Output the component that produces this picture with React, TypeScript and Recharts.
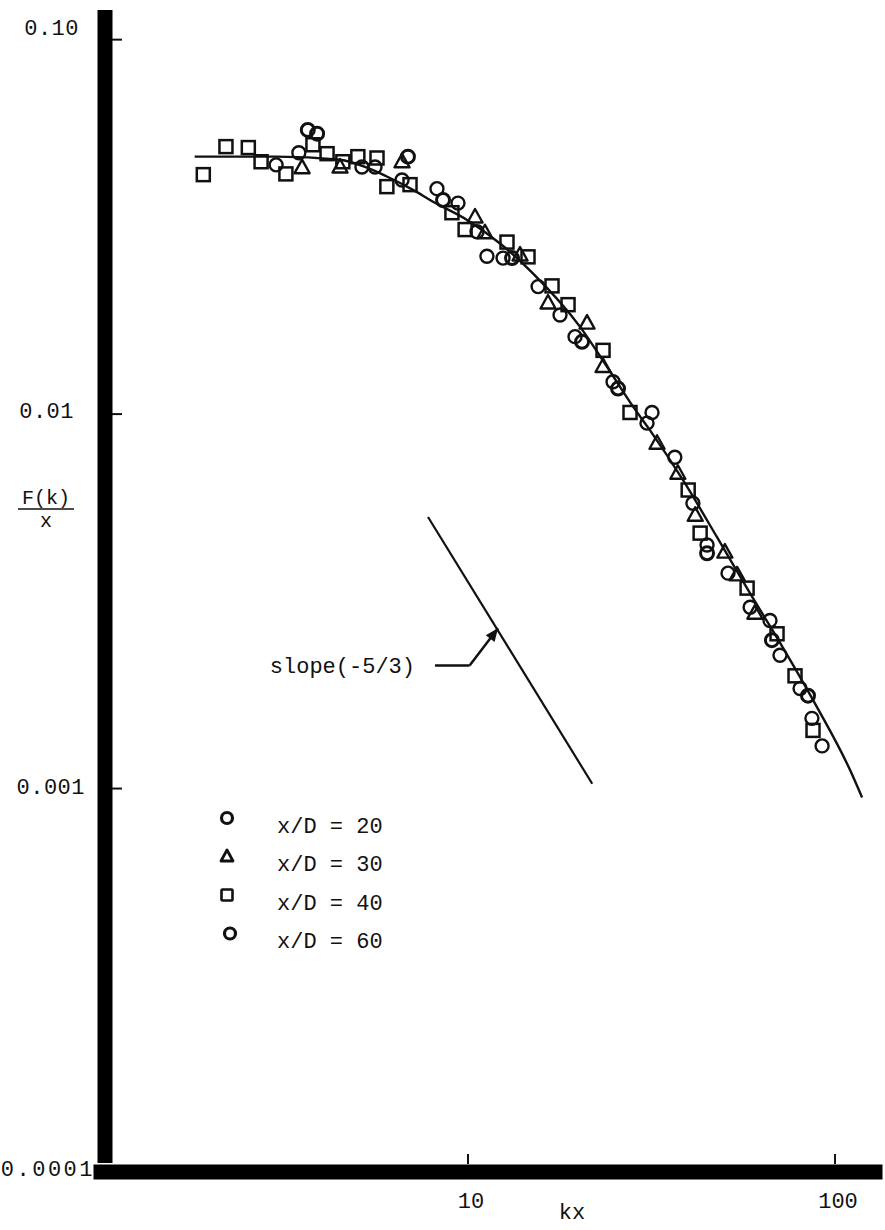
import React from 'react';
import { ComposedChart, XAxis, YAxis, Scatter, Line, ReferenceLine, Legend } from 'recharts';

// ---- axis ticks ----
const xTicks = [10, 100];
const xTickLabels = ['10', '100'];
const yTicks = [0.0001, 0.001, 0.01, 0.1];
const yTickLabels = ['0.0001', '0.001', '0.01', '0.10'];
const xLabel = 'kx';
const yLabelTop = 'F(k)';
const yLabelBottom = 'x';

// ---- data: x/D = 20 (circles) ----
const kx20 = [3.0, 3.46, 5.14, 5.58, 6.61, 8.23, 9.39, 10.58, 11.26, 12.46, 15.52, 17.81, 19.57, 24.84, 30.74, 31.72, 36.6, 41.0, 44.8, 51.1, 58.7, 66.5, 70.8, 80.3, 86.5, 92.2];
const f20 = [0.0463, 0.0499, 0.0457, 0.0457, 0.0422, 0.04, 0.0366, 0.0307, 0.0264, 0.0261, 0.0219, 0.0184, 0.0161, 0.0122, 0.00946, 0.0101, 0.00767, 0.00578, 0.00447, 0.00376, 0.00305, 0.00281, 0.00227, 0.00185, 0.00154, 0.0013];

// ---- data: x/D = 30 (triangles) ----
const kx30 = [3.53, 4.48, 6.61, 10.45, 11.12, 13.86, 16.52, 21.1, 23.33, 32.73, 37.3, 41.6, 50.1, 54.1, 60.5];
const f30 = [0.0455, 0.0457, 0.0472, 0.0336, 0.0305, 0.0266, 0.0198, 0.0175, 0.0134, 0.00836, 0.00695, 0.00537, 0.00428, 0.00372, 0.00294];

// ---- data: x/D = 40 (squares) ----
const kx40 = [1.9, 2.19, 2.52, 2.73, 3.19, 3.78, 4.13, 4.56, 5.01, 5.65, 6.01, 6.95, 9.04, 9.82, 12.77, 14.57, 16.94, 18.73, 23.33, 27.63, 39.8, 42.9, 57.6, 69.5, 77.8, 87.1];
const f40 = [0.0436, 0.0518, 0.0515, 0.0472, 0.0438, 0.0524, 0.0496, 0.0472, 0.0487, 0.0483, 0.0405, 0.041, 0.0345, 0.0311, 0.0288, 0.0263, 0.022, 0.0196, 0.0148, 0.0101, 0.00627, 0.00481, 0.00343, 0.00259, 0.002, 0.00143];

// ---- data: x/D = 60 (bold circles) ----
const kx60 = [3.66, 3.88, 6.86, 8.55, 13.18, 20.45, 25.63, 44.8, 67.3, 84.4];
const f60 = [0.0574, 0.0561, 0.0487, 0.0373, 0.0261, 0.0156, 0.0117, 0.00425, 0.00249, 0.00177];

// ---- fitted curve ----
const kxCurve = [1.8, 3.0, 4.48, 5.31, 6.01, 7.08, 8.03, 9.94, 12.2, 15.0, 20.2, 23.9, 28.2, 31.3, 38.5, 47.7, 58.7, 72.1, 89.3, 109.9, 118.5];
const fCurve = [0.0487, 0.0487, 0.0478, 0.0455, 0.0431, 0.0397, 0.0369, 0.033, 0.0286, 0.0238, 0.0171, 0.0134, 0.01045, 0.00906, 0.00667, 0.00469, 0.00332, 0.00238, 0.00165, 0.00112, 0.000946];

// ---- slope (-5/3) reference segment and arrow ----
const slopeKx = [7.78, 21.8];
const slopeF = [0.00531, 0.00103];
const arrowKx = [8.13, 10.1, 12.07];
const arrowF = [0.00213, 0.00213, 0.00268];
const slopeLabel = 'slope(-5/3)';

const legendLabels = ['x/D = 20', 'x/D = 30', 'x/D = 40', 'x/D = 60'];

const zip = (xs: number[], ys: number[]) => xs.map((x, i) => ({ x, y: ys[i] }));

const d20 = zip(kx20, f20);
const d30 = zip(kx30, f30);
const d40 = zip(kx40, f40);
const d60 = zip(kx60, f60);
const curve = zip(kxCurve, fCurve);
const arrowTip = [{ x: arrowKx[2], y: arrowF[2] }];

const FONT = '"Liberation Mono", "DejaVu Sans Mono", monospace';
const INK = '#111';

const circleShape = (sw: number) => (p: any) => (
  <circle cx={p.cx} cy={p.cy} r={6.5} fill="none" stroke={INK} strokeWidth={sw} />
);
const triangleShape = (p: any) => (
  <polygon
    points={`${p.cx},${p.cy - 8} ${p.cx - 7.5},${p.cy + 5.5} ${p.cx + 7.5},${p.cy + 5.5}`}
    fill="none"
    stroke={INK}
    strokeWidth={2.4}
    strokeLinejoin="round"
  />
);
const squareShape = (p: any) => (
  <rect x={p.cx - 6.5} y={p.cy - 6.5} width={13} height={13} fill="none" stroke={INK} strokeWidth={2.5} />
);
const arrowHead = (p: any) => (
  <polygon
    points="0,0 -13,-5.5 -13,5.5"
    fill={INK}
    transform={`translate(${p.cx},${p.cy}) rotate(-52.9)`}
  />
);

const yLabelEnd = [6, 16, 27, 22];
const yLabelDy = [7, 0, -2, -10];
const yLabelSpacing = [2.5, 0.5, 0.5, 0.5];

const YTick = (props: any) => {
  const { x, y, payload } = props;
  const i = yTicks.indexOf(payload.value);
  if (i < 0) return null;
  return (
    <g>
      {i > 0 && <line x1={x + 11} x2={x + 21} y1={y} y2={y} stroke={INK} strokeWidth={2} />}
      <text
        x={x - yLabelEnd[i]}
        y={y + yLabelDy[i]}
        textAnchor="end"
        dominantBaseline="central"
        fontFamily={FONT}
        fontSize={22}
        letterSpacing={yLabelSpacing[i]}
        fill={INK}
      >
        {yTickLabels[i]}
      </text>
    </g>
  );
};

const XTick = (props: any) => {
  const { x, y, payload } = props;
  const i = xTicks.indexOf(payload.value);
  if (i < 0) return null;
  return (
    <g>
      <line x1={x} x2={x} y1={y + 1} y2={y - 9} stroke={INK} strokeWidth={2} />
      <text
        x={x + 3}
        y={y + 39}
        textAnchor="middle"
        dominantBaseline="central"
        fontFamily={FONT}
        fontSize={22}
        fill={INK}
      >
        {xTickLabels[i]}
      </text>
    </g>
  );
};

const XLabel = (props: any) => {
  const vb = props.viewBox || { x: 101, y: 1163, width: 774 };
  return (
    <text x={vb.x + 471} y={vb.y + 50} textAnchor="middle" dominantBaseline="central" fontFamily={FONT} fontSize={22} fill={INK}>
      {xLabel}
    </text>
  );
};

const YLabel = (props: any) => {
  const vb = props.viewBox || { x: 0, y: 10 };
  const cx = vb.x + 46;
  return (
    <g>
      <text x={cx} y={498} textAnchor="middle" dominantBaseline="central" fontFamily={FONT} fontSize={20} fill={INK}>
        {yLabelTop}
      </text>
      <line x1={cx - 28} x2={cx + 28} y1={509} y2={509} stroke={INK} strokeWidth={1.5} />
      <text x={cx} y={521} textAnchor="middle" dominantBaseline="central" fontFamily={FONT} fontSize={20} fill={INK}>
        {yLabelBottom}
      </text>
    </g>
  );
};

const LegendBox = () => {
  const rowH = 38.5;
  return (
    <svg width={220} height={160} style={{ display: 'block', overflow: 'visible' }}>
      {legendLabels.map((lab, i) => {
        const my = 18 + i * rowH;
        const mx = i === 3 ? 20 : 17;
        let marker: React.ReactNode = null;
        if (i === 0 || i === 3) {
          marker = <circle cx={mx} cy={my} r={5.5} fill="none" stroke={INK} strokeWidth={3.2} />;
        } else if (i === 1) {
          marker = (
            <polygon
              points={`${mx},${my - 6.5} ${mx - 6},${my + 4.5} ${mx + 6},${my + 4.5}`}
              fill="none"
              stroke={INK}
              strokeWidth={2.8}
              strokeLinejoin="round"
            />
          );
        } else {
          marker = <rect x={mx - 5.5} y={my - 5.5} width={11} height={11} fill="none" stroke={INK} strokeWidth={2.6} rx={1} />;
        }
        return (
          <g key={lab}>
            {marker}
            <text x={67} y={my + 9} dominantBaseline="central" fontFamily={FONT} fontSize={22} fill={INK}>
              {lab}
            </text>
          </g>
        );
      })}
    </svg>
  );
};

export default function App() {
  return (
    <div style={{ position: 'absolute', left: 0, top: 0, width: 885, height: 1230, background: '#fff' }}>
      <ComposedChart width={885} height={1230} margin={{ top: 10, right: 10, bottom: 7, left: 0 }}>
        <XAxis
          dataKey="x"
          type="number"
          scale="log"
          domain={[1, 128.5]}
          allowDataOverflow
          ticks={xTicks}
          height={60}
          tickSize={0}
          tickMargin={0}
          tickLine={false}
          interval={0}
          tick={<XTick />}
          axisLine={{ stroke: '#000', strokeWidth: 15, strokeLinecap: 'square', transform: 'translate(0,9)' }}
          label={<XLabel />}
        />
        <YAxis
          dataKey="y"
          type="number"
          scale="log"
          domain={[0.0001, 0.12]}
          allowDataOverflow
          ticks={yTicks}
          width={101}
          tickSize={0}
          tickMargin={0}
          tickLine={false}
          interval={0}
          tick={<YTick />}
          axisLine={{ stroke: '#000', strokeWidth: 15, transform: 'translate(4,0)' }}
          label={<YLabel />}
        />
        <Legend
          layout="vertical"
          align="center"
          verticalAlign="middle"
          content={() => <LegendBox />}
          wrapperStyle={{ left: 210, top: 800, width: 220, height: 160 }}
        />
        <ReferenceLine
          segment={[{ x: slopeKx[0], y: slopeF[0] }, { x: slopeKx[1], y: slopeF[1] }]}
          stroke={INK}
          strokeWidth={2.2}
          ifOverflow="visible"
        />
        <ReferenceLine
          segment={[{ x: arrowKx[0], y: arrowF[0] }, { x: arrowKx[1], y: arrowF[1] }]}
          stroke={INK}
          strokeWidth={2.5}
          ifOverflow="visible"
          label={{ value: slopeLabel, position: 'left', offset: 20, fill: INK, fontFamily: FONT, fontSize: 22 }}
        />
        <ReferenceLine
          segment={[{ x: arrowKx[1], y: arrowF[1] }, { x: arrowKx[2], y: arrowF[2] }]}
          stroke={INK}
          strokeWidth={2.5}
          ifOverflow="visible"
        />
        <Line
          data={curve}
          dataKey="y"
          type="monotone"
          dot={false}
          activeDot={false}
          stroke={INK}
          strokeWidth={2.4}
          isAnimationActive={false}
          legendType="none"
        />
        <Scatter name={legendLabels[0]} data={d20} shape={circleShape(2.4)} isAnimationActive={false} />
        <Scatter name={legendLabels[1]} data={d30} shape={triangleShape} isAnimationActive={false} />
        <Scatter name={legendLabels[2]} data={d40} shape={squareShape} isAnimationActive={false} />
        <Scatter name={legendLabels[3]} data={d60} shape={circleShape(3)} isAnimationActive={false} />
        <Scatter data={arrowTip} shape={arrowHead} isAnimationActive={false} legendType="none" />
      </ComposedChart>
    </div>
  );
}
